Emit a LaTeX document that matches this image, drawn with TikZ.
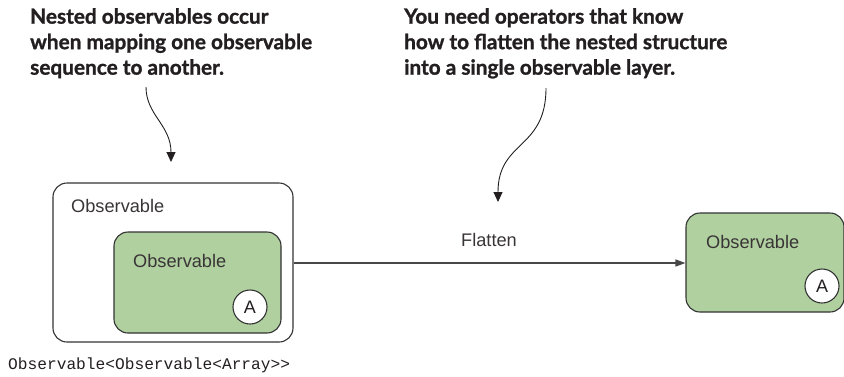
\documentclass[tikz,border=0pt]{standalone}
\usepackage{fontspec}
\setmainfont{Liberation Sans}
\newfontfamily\calloutfont{Lato Bold}[FakeBold=1.2]
\newfontfamily\codefont{Liberation Mono}
\usetikzlibrary{arrows.meta}
\definecolor{boxgreen}{RGB}{176,208,160}
\definecolor{ink}{RGB}{35,31,32}
\definecolor{edge}{RGB}{51,51,51}
\tikzset{
  obsbox/.style={draw=edge, line width=1.1pt, rounded corners=14pt, inner sep=0pt},
  greenbox/.style={obsbox, fill=boxgreen},
  itemcircle/.style={circle, draw=edge, line width=1.1pt, fill=white, minimum size=34pt, inner sep=0pt, font=\fontsize{18}{20}\selectfont, text=ink},
  obslabel/.style={anchor=base west, inner sep=0pt, font=\fontsize{18.2}{20}\selectfont, text=ink!90},
  callout/.style={anchor=north west, inner sep=0pt, align=left, text=ink, font=\calloutfont\fontsize{20.8}{25.5}\selectfont},
  calloutarrow/.style={draw=ink, line width=0.9pt, -{Triangle[width=9pt,length=10pt]}},
  flowarrow/.style={draw=edge!90, line width=1.3pt, -{Triangle[width=7pt,length=10pt]}}
}
\begin{document}
\begin{tikzpicture}[x=1pt,y=-1pt]
\useasboundingbox (0,0) rectangle (844,376);
% boxes
\node[obsbox, minimum width=240pt, minimum height=159pt] (outer) at (173,262.5) {};
\node[greenbox, minimum width=167pt, minimum height=101pt] (inner) at (197.5,282.5) {};
\node[itemcircle] (a1) at (250,307) {A};
\node[greenbox, minimum width=158pt, minimum height=99pt] (right) at (765,262.5) {};
\node[itemcircle] (a2) at (822,286) {A};
% labels
\node[obslabel] (l1) at (71,212) {Observable};
\node[obslabel] (l2) at (133,267) {Observable};
\node[obslabel] (l3) at (706,248) {Observable};
\node[anchor=base, inner sep=0pt, font=\fontsize{18.2}{20}\selectfont, text=ink!90] (flat) at (489,246) {Flatten};
\node[anchor=base west, inner sep=0pt, font=\codefont\fontsize{16.2}{18}\selectfont, text=ink] (type) at (8,369) {Observable<Observable<Array>{}>};
% flow arrow
\draw[flowarrow] (outer.east |- 0,263) -- (right.west |- 0,263);
% callouts
\node[callout] (c1) at (30,8) {Nested observables occur\\when mapping one observable\\sequence to another.};
\node[callout] (c2) at (404,8) {You need operators that know\\how to flatten the nested structure\\into a single observable layer.};
\coordinate (c1s) at (146,87);
\coordinate (c1e) at (171,162);
\coordinate (c2s) at (546,88);
\coordinate (c2e) at (498,202);
\draw[calloutarrow] (c1s) .. controls (146,115) and (171,125) .. (c1e);
\draw[calloutarrow] (c2s) .. controls (546,150) and (498,140) .. (c2e);
\end{tikzpicture}
\end{document}
